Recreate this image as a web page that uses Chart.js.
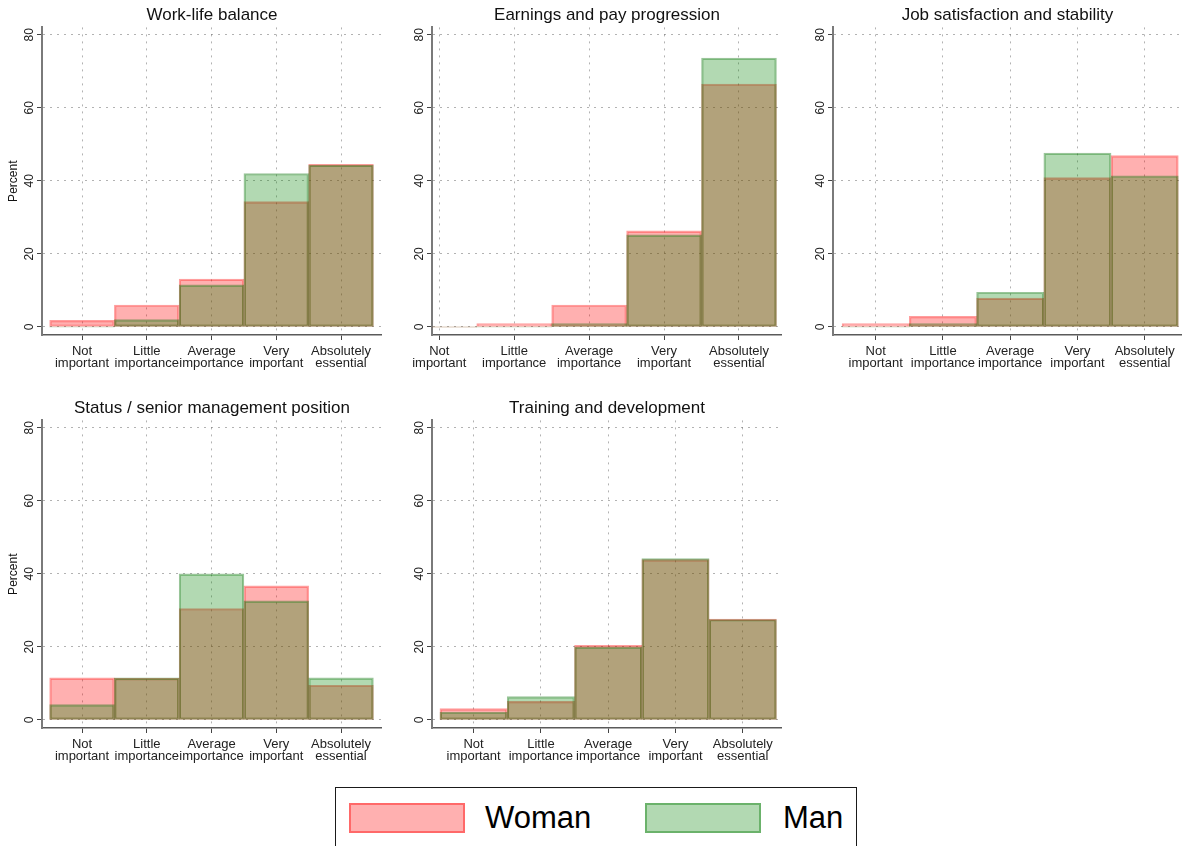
<!DOCTYPE html>
<html>
<head>
<meta charset="utf-8">
<script src="https://cdn.jsdelivr.net/npm/chart.js@4.4.1/dist/chart.umd.min.js"></script>
<style>
  html, body { margin: 0; padding: 0; background: #fff; }
  body { width: 1182px; height: 846px; position: relative; overflow: hidden;
         font-family: 'Liberation Sans', Arial, sans-serif; }
  canvas.panel { position: absolute; }
  #legend { position: absolute; left: 335px; top: 787px; width: 522px; height: 72px;
            border: 1.5px solid #1a1a1a; box-sizing: border-box; }
  #legend .swatch { position: absolute; top: 15px; width: 112px; height: 26px; }
  #legend .label { position: absolute; top: 13px; font-size: 31px; line-height: 34px; color: #000; }
</style>
</head>
<body>
<canvas id="p0" class="panel"></canvas>
<canvas id="p1" class="panel"></canvas>
<canvas id="p2" class="panel"></canvas>
<canvas id="p3" class="panel"></canvas>
<canvas id="p4" class="panel"></canvas>

<div id="legend">
  <div class="swatch" style="left:13px;background:rgba(255,0,0,0.31);border:2px solid rgba(255,0,0,0.4);"></div>
  <div class="label" style="left:149px;">Woman</div>
  <div class="swatch" style="left:309px;background:rgba(0,128,0,0.3);border:2px solid rgba(0,120,0,0.4);"></div>
  <div class="label" style="left:447px;">Man</div>
</div>

<script>
// Response categories (x axis) and y tick values
const categories = [
  ['Not', 'important'],
  ['Little', 'importance'],
  ['Average', 'importance'],
  ['Very', 'important'],
  ['Absolutely', 'essential']
];
const categoryCodes = [1, 2, 3, 4, 5];
const percentTicks = [0, 20, 40, 60, 80];

// Panel titles
const panelTitles = [
  'Work-life balance',
  'Earnings and pay progression',
  'Job satisfaction and stability',
  'Status / senior management position',
  'Training and development'
];

// Percent of respondents per category
const womanWorkLife  = [1.8, 6.0, 13.1, 34.3, 44.5];
const manWorkLife    = [0,   2.0, 11.5, 42.0, 44.3];
const womanEarnings  = [0,   0.9, 6.0,  26.3, 66.5];
const manEarnings    = [0,   0,   0.9,  25.2, 73.6];
const womanJobSat    = [0.9, 2.9, 7.9,  40.9, 46.9];
const manJobSat      = [0,   0.9, 9.5,  47.6, 41.4];
const womanStatus    = [11.5, 11.4, 30.5, 36.7, 9.5];
const manStatus      = [4.2, 11.5, 40.0, 32.6, 11.5];
const womanTraining  = [3.1, 5.1, 20.4, 43.9, 27.6];
const manTraining    = [2.1, 6.4, 20.0, 44.2, 27.5];

const womanSeries = [womanWorkLife, womanEarnings, womanJobSat, womanStatus, womanTraining];
const manSeries   = [manWorkLife, manEarnings, manJobSat, manStatus, manTraining];

// Placement of each small multiple on the page
const frames = [
  { left: 0,   top: 0,   width: 382, xMin: 0.382, xMax: 5.633, yTitle: true },
  { left: 390, top: 0,   width: 392, xMin: 0.903, xMax: 5.574, yTitle: false },
  { left: 791, top: 0,   width: 391, xMin: 0.365, xMax: 5.555, yTitle: false },
  { left: 0,   top: 393, width: 382, xMin: 0.382, xMax: 5.633, yTitle: true },
  { left: 390, top: 393, width: 392, xMin: 0.382, xMax: 5.583, yTitle: false }
];
const PANEL_HEIGHT = 380;
const FONT = "'Liberation Sans', Arial, sans-serif";

const toPoints = arr => arr.map((v, i) => ({ x: categoryCodes[i], y: v }));
// empty categories get no outline
const outline = ctx => (ctx.raw && ctx.raw.y === 0 ? 0 : 1.5);

frames.forEach((f, idx) => {
  const cv = document.getElementById('p' + idx);
  cv.width = f.width;
  cv.height = PANEL_HEIGHT;
  cv.style.left = f.left + 'px';
  cv.style.top = f.top + 'px';

  new Chart(cv, {
    type: 'bar',
    data: {
      datasets: [
        {
          label: 'Woman',
          data: toPoints(womanSeries[idx]),
          backgroundColor: 'rgba(255,0,0,0.31)',
          borderColor: 'rgba(255,0,0,0.38)',
          borderWidth: outline,
          borderSkipped: false,
          grouped: false,
          barPercentage: 1,
          categoryPercentage: 1,
          order: 1
        },
        {
          label: 'Man',
          data: toPoints(manSeries[idx]),
          backgroundColor: 'rgba(0,128,0,0.3)',
          borderColor: 'rgba(0,110,0,0.4)',
          borderWidth: outline,
          borderSkipped: false,
          grouped: false,
          barPercentage: 1,
          categoryPercentage: 1,
          order: 0
        }
      ]
    },
    options: {
      responsive: false,
      animation: false,
      devicePixelRatio: 1,
      layout: { padding: 0 },
      plugins: {
        legend: { display: false },
        tooltip: { enabled: false },
        title: {
          display: true,
          text: panelTitles[idx],
          fullSize: false,
          color: '#111',
          font: { family: FONT, size: 17, weight: 'normal', lineHeight: 1.2 },
          padding: { top: 5, bottom: 2 }
        }
      },
      scales: {
        x: {
          type: 'linear',
          offset: false,
          min: f.xMin,
          max: f.xMax,
          afterBuildTicks: s => { s.ticks = categoryCodes.map(v => ({ value: v })); },
          afterFit: s => { s.height = 45; },
          ticks: {
            callback: v => categories[v - 1],
            color: '#222',
            padding: 6,
            maxRotation: 0,
            autoSkip: false,
            font: { family: FONT, size: 13, lineHeight: 0.9 }
          },
          grid: {
            offset: false,
            color: 'rgba(0,0,0,0.3)',
            lineWidth: 1,
            tickLength: 5,
            tickColor: '#444',
            tickWidth: 1
          },
          border: { display: true, color: '#5a5a5a', width: 1.5, dash: [2, 5] }
        },
        y: {
          type: 'linear',
          min: -2.2,
          max: 82,
          afterBuildTicks: s => { s.ticks = percentTicks.map(v => ({ value: v })); },
          afterFit: s => { s.width = 42; },
          ticks: {
            callback: v => String(v),
            color: '#222',
            padding: 1,
            minRotation: 90,
            maxRotation: 90,
            crossAlign: 'center',
            font: { family: FONT, size: 12 }
          },
          grid: {
            color: 'rgba(0,0,0,0.3)',
            lineWidth: 1,
            tickLength: 5,
            tickColor: '#444',
            tickWidth: 1
          },
          border: { display: true, color: '#7a7a7a', width: 2, dash: [2, 5] },
          title: {
            display: f.yTitle,
            text: 'Percent',
            color: '#111',
            font: { family: FONT, size: 12 },
            padding: { top: 6, bottom: 0 }
          }
        }
      }
    }
  });
});
</script>
</body>
</html>
